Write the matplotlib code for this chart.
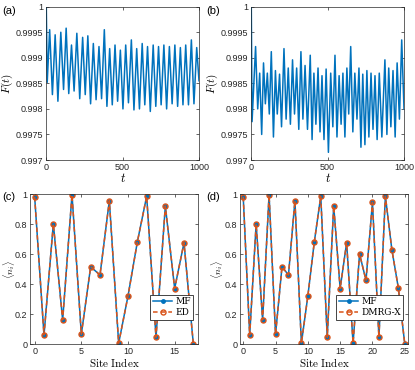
import matplotlib
matplotlib.use("Agg")
import matplotlib.pyplot as plt
import numpy as np

plt.rcParams['mathtext.fontset'] = 'cm'
plt.rcParams['font.family'] = ['Liberation Sans', 'DejaVu Sans']

blue = '#0072BD'
orange = '#D95319'

# (a) fidelity, MF vs ED (peaks and troughs)
ta = [0, 6, 22, 40, 58, 76, 95, 113, 130, 147, 165, 182, 200, 219, 238, 255,
      272, 290, 308, 326, 345, 362, 380, 397, 415, 432, 450, 467, 485, 502,
      520, 538, 557, 574, 592, 610, 628, 645, 663, 681, 700, 717, 735, 752,
      770, 788, 806, 824, 842, 860, 878, 895, 913, 931, 950, 967, 985, 1000]
Fa = [1.0, 0.99852,
      0.99955, 0.99828, 0.99945, 0.99815, 0.99950, 0.99838, 0.99958, 0.99830,
      0.99925, 0.99835, 0.99948, 0.99820, 0.99940, 0.99828, 0.99943, 0.99810,
      0.99928, 0.99818, 0.99922, 0.99820, 0.99955, 0.99805, 0.99918, 0.99808,
      0.99925, 0.99815, 0.99915, 0.99800, 0.99925, 0.99812, 0.99935, 0.99798,
      0.99918, 0.99800, 0.99928, 0.99808, 0.99922, 0.99795, 0.99925, 0.99805,
      0.99922, 0.99808, 0.99925, 0.99800, 0.99922, 0.99810, 0.99925, 0.99805,
      0.99920, 0.99808, 0.99925, 0.99808, 0.99935, 0.99810, 0.99920, 0.99855]

# (b) fidelity, larger system
tb = [0, 5, 28, 42, 55, 68, 80, 92, 105, 118, 131, 145, 158, 170, 185, 198,
      214, 228, 242, 256, 270, 283, 297, 311, 325, 338, 352, 368, 386, 398,
      410, 423, 437, 450, 463, 476, 490, 505, 520, 534, 548, 561, 575, 588,
      600, 613, 626, 638, 651, 665, 678, 692, 705, 718, 730, 744, 757, 770,
      784, 797, 810, 824, 838, 855, 875, 888, 900, 914, 928, 942, 955, 970,
      985, 1000]
Fb = [1.0, 0.99775,
      0.99922, 0.99800, 0.99870, 0.99750, 0.99890, 0.99810, 0.99870, 0.99790,
      0.99912, 0.99745, 0.99875, 0.99790, 0.99868, 0.99765, 0.99918, 0.99780,
      0.99880, 0.99770, 0.99896, 0.99790, 0.99880, 0.99760, 0.99912, 0.99780,
      0.99885, 0.99760, 0.99905, 0.99740, 0.99870, 0.99770, 0.99880, 0.99755,
      0.99865, 0.99740, 0.99878, 0.99715, 0.99870, 0.99765, 0.99905, 0.99745,
      0.99865, 0.99770, 0.99870, 0.99745, 0.99880, 0.99790, 0.99922, 0.99755,
      0.99870, 0.99780, 0.99880, 0.99725, 0.99868, 0.99730, 0.99875, 0.99745,
      0.99870, 0.99760, 0.99865, 0.99740, 0.99870, 0.99745, 0.99896, 0.99750,
      0.99880, 0.99765, 0.99875, 0.99745, 0.99890, 0.99780, 0.99935, 0.99800]

# (c) site occupations, 18 sites
nc = [0.98, 0.06, 0.80, 0.16, 0.995, 0.065, 0.515, 0.46, 0.955, 0.005,
      0.32, 0.68, 0.985, 0.045, 0.92, 0.37, 0.675, 0.0]
# (d) site occupations, 26 sites
nd = [0.98, 0.06, 0.80, 0.16, 0.995, 0.065, 0.515, 0.46, 0.955, 0.005,
      0.32, 0.68, 0.985, 0.045, 0.92, 0.37, 0.675, 0.005, 0.60, 0.425,
      0.945, 0.045, 0.985, 0.63, 0.375, 0.0]

W, H = 415, 370
fig = plt.figure(figsize=(W / 100, H / 100), dpi=100)


def box(l, r, t, b):
    return [l / W, 1 - b / H, (r - l) / W, (b - t) / H]


ax_a = fig.add_axes(box(46.3, 199, 6.7, 160))
ax_b = fig.add_axes(box(251.3, 404, 6.7, 160))
ax_c = fig.add_axes(box(30, 198, 194, 344))
ax_d = fig.add_axes(box(240, 408, 194, 344))

yt = [0.997, 0.9975, 0.998, 0.9985, 0.999, 0.9995, 1.0]
ytl = ['0.997', '0.9975', '0.998', '0.9985', '0.999', '0.9995', '1']

for ax, t, F in [(ax_a, ta, Fa), (ax_b, tb, Fb)]:
    ax.plot(t, F, color=blue, lw=1.1)
    ax.set_xlim(0, 1000)
    ax.set_ylim(0.997, 1.0)
    ax.set_yticks(yt)
    ax.set_yticklabels(ytl)
    ax.set_xticks([0, 500, 1000])
    ax.set_xlabel(r'$t$', fontsize=9, labelpad=0)
    ax.set_ylabel(r'$F(t)$', fontsize=8, labelpad=1)

for ax, n, lab, xt in [(ax_c, nc, 'ED', [0, 5, 10, 15]),
                       (ax_d, nd, 'DMRG-X', [0, 5, 10, 15, 20, 25])]:
    x = np.arange(len(n))
    ax.plot(x, n, color=blue, lw=1.1, marker='.', ms=5, label='MF')
    ax.plot(x, n, color=orange, lw=1.1, ls=(0, (3, 2)), marker='o', ms=3.6,
            mfc='none', mew=1.0, label=lab)
    ax.set_xlim(-0.5, len(n) - 0.5)
    ax.set_ylim(0, 1)
    ax.set_xticks(xt)
    ax.set_yticks([0, 0.2, 0.4, 0.6, 0.8, 1])
    ax.set_yticklabels(['0', '0.2', '0.4', '0.6', '0.8', '1'])
    ax.set_xlabel(r'$\mathrm{Site\ Index}$', fontsize=8, labelpad=0)
    ax.set_ylabel(r'$\langle n_i\rangle$', fontsize=7, labelpad=0)
    leg = ax.legend(loc='lower right', bbox_to_anchor=(1.0, 0.13),
                    prop={'family': 'serif', 'size': 6.5},
                    handlelength=2.2, borderpad=0.3, labelspacing=0.2,
                    handletextpad=0.3, fancybox=False, framealpha=1,
                    edgecolor='#262626')
    leg.get_frame().set_linewidth(0.6)

for ax in [ax_a, ax_b, ax_c, ax_d]:
    ax.tick_params(direction='in', top=True, right=True, labelsize=6.5,
                   length=2.5, width=0.5, colors='#262626', pad=2)
    for s in ax.spines.values():
        s.set_linewidth(0.5)
        s.set_color('#262626')

# (c) sits close to the figure edge, keep its y label inside
ax_c.yaxis.set_label_coords(-0.075, 0.5)

fig.text(2 / W, 1 - 11 / H, '(a)', fontsize=8, va='center')
fig.text(206 / W, 1 - 11 / H, '(b)', fontsize=8, va='center')
fig.text(2 / W, 1 - 197 / H, '(c)', fontsize=8, va='center')
fig.text(206 / W, 1 - 197 / H, '(d)', fontsize=8, va='center')

fig.savefig('out.png', dpi=100, facecolor='white')
